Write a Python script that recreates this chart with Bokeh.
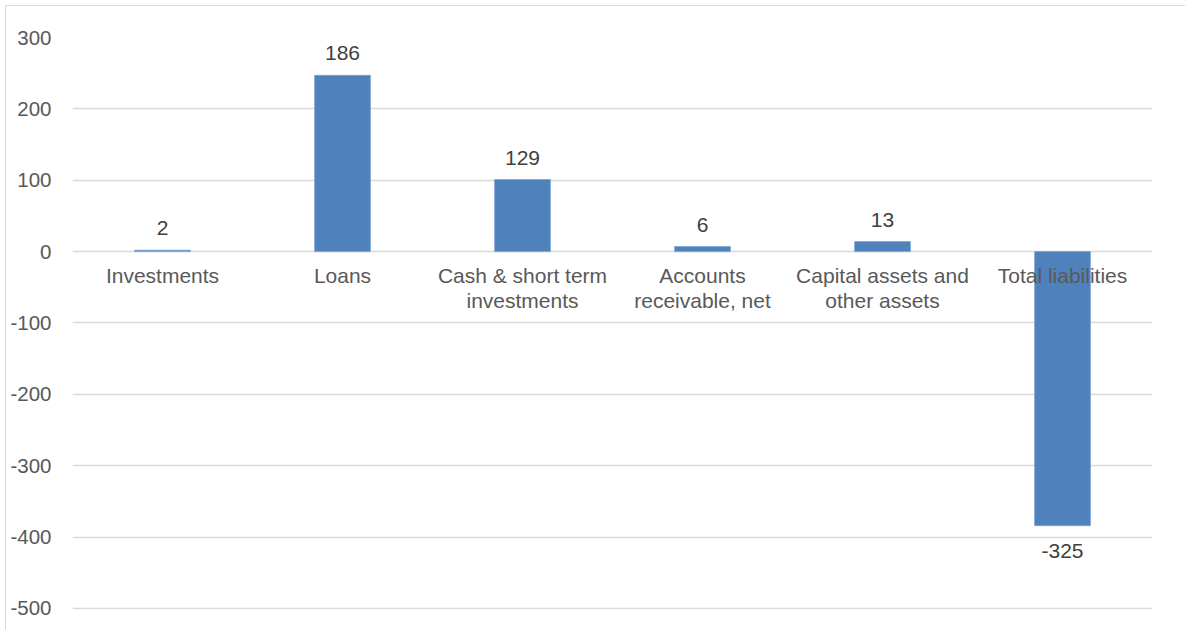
from bokeh.plotting import figure
from bokeh.models import Range1d, ColumnDataSource, FixedTicker, NumeralTickFormatter
from bokeh.core.properties import value
from bokeh.embed import file_html
from bokeh.resources import INLINE

categories = ["Investments", "Loans", "Cash & short term\ninvestments",
              "Accounts\nreceivable, net", "Capital assets and\nother assets",
              "Total liabilities"]
bar_values = [2, 247, 101, 7, 14, -384]
value_labels = ["2", "186", "129", "6", "13", "-325"]
y_ticks = [-500, -400, -300, -200, -100, 0, 100, 200, 300]

FONT = "Liberation Sans"
FS = "21px"
FS_TICK = "20.5px"

p = figure(x_range=categories, y_range=Range1d(-501.5, 300),
           width=1180, height=625, output_backend="svg", toolbar_location=None,
           min_border_left=66, min_border_right=34, min_border_top=31,
           min_border_bottom=22)
p.outline_line_color = None
p.background_fill_color = "white"
p.border_fill_color = "white"
p.styles = {"margin-left": "5px", "margin-top": "5px",
            "border-left": "1px solid #d9d9d9", "border-top": "1px solid #d9d9d9"}

p.xgrid.grid_line_color = None
p.ygrid.grid_line_color = "#d9d9d9"
p.ygrid.grid_line_width = 1.3
p.xaxis.visible = False

yax = p.yaxis[0]
yax.ticker = FixedTicker(ticks=y_ticks)
yax.formatter = NumeralTickFormatter(format="0")
yax.axis_line_color = None
yax.major_tick_line_color = None
yax.minor_tick_line_color = None
yax.major_tick_out = 0
yax.major_label_standoff = 21
yax.major_label_text_font = FONT
yax.major_label_text_font_size = FS_TICK
yax.major_label_text_color = "#595959"

src = ColumnDataSource(dict(cat=categories, val=bar_values, lab=value_labels,
                            zero=[0] * len(categories)))

p.vbar(x="cat", top="val", bottom=0, width=0.31, source=src,
       fill_color="#4F81BD", line_color="#7BA3D6", line_width=0.8)

pos = [i for i, v in enumerate(bar_values) if v >= 0]
neg = [i for i, v in enumerate(bar_values) if v < 0]
pos_src = ColumnDataSource(dict(cat=[categories[i] for i in pos],
                                val=[bar_values[i] for i in pos],
                                lab=[value_labels[i] for i in pos]))
neg_src = ColumnDataSource(dict(cat=[categories[i] for i in neg],
                                val=[bar_values[i] for i in neg],
                                lab=[value_labels[i] for i in neg]))

p.text(x="cat", y="val", text="lab", source=pos_src, text_align="center",
       text_baseline="bottom", y_offset=-15, text_font=value(FONT),
       text_font_size=FS, text_color="#404040")
p.text(x="cat", y="val", text="lab", source=neg_src, text_align="center",
       text_baseline="top", y_offset=18, text_font=value(FONT),
       text_font_size=FS, text_color="#404040")

# category labels placed under the zero line
p.text(x="cat", y="zero", text="cat", source=src, text_align="center",
       text_baseline="top", y_offset=12, text_font=value(FONT),
       text_font_size=FS, text_color="#595959", text_line_height=1.1)

open("out.html", "w").write(file_html(p, INLINE))
